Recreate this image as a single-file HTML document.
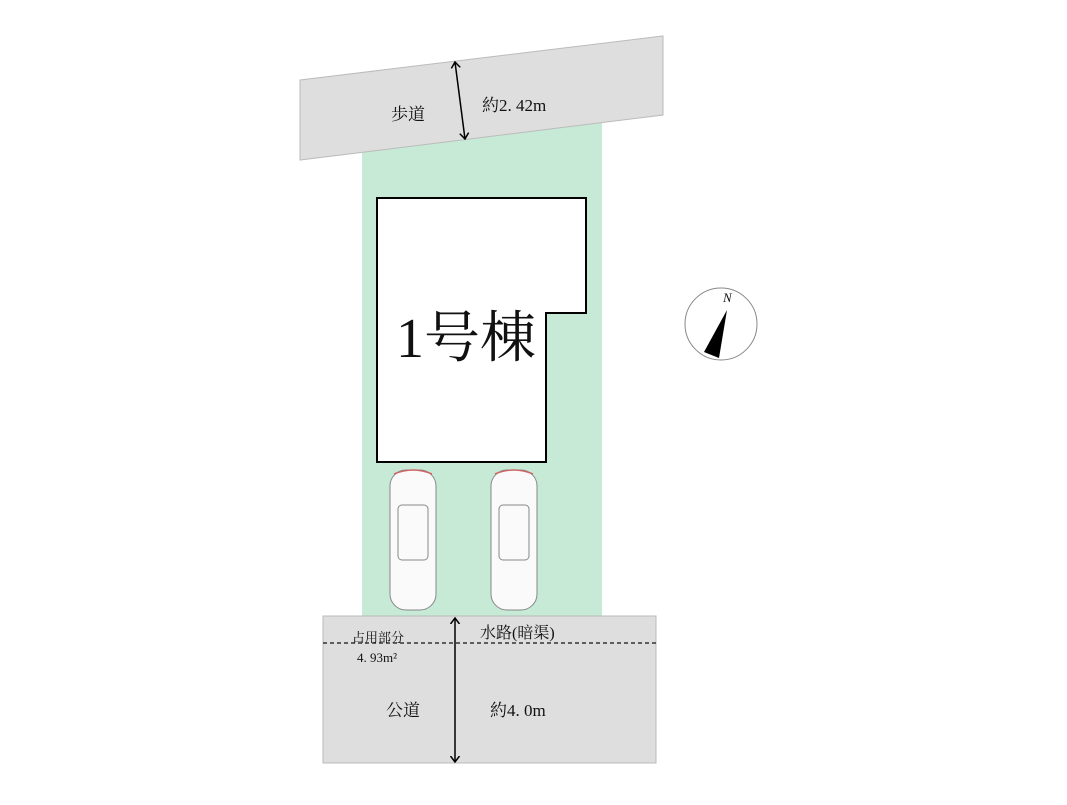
<!DOCTYPE html>
<html><head><meta charset="utf-8"><style>
body{margin:0;background:#fff;width:1067px;height:800px;overflow:hidden}
svg text{font-family:"Liberation Serif","Noto Serif CJK SC",serif;fill:#111}
</style></head><body>
<svg width="1067" height="800" viewBox="0 0 1067 800">
<defs><marker id="a" markerWidth="8" markerHeight="8" refX="4" refY="4" orient="auto-start-reverse"><path d="M0,1 L4,4 L0,7" fill="none" stroke="#000" stroke-width="1"/></marker></defs>
<rect x="362" y="110" width="240" height="506" fill="#c6ead6"/>
<polygon points="300,80 663,36 663,115 300,160" fill="#dedede" stroke="#bbb" stroke-width="1"/>
<line x1="455" y1="62" x2="465" y2="139" stroke="#000" stroke-width="1.5" marker-start="url(#a)" marker-end="url(#a)"/>
<text x="391" y="120" font-size="17">歩道</text>
<text x="482" y="111" font-size="17">約2. 42m</text>
<polygon points="377,198 586,198 586,313 546,313 546,462 377,462" fill="#fff" stroke="#000" stroke-width="2"/>
<text x="396" y="357" font-size="56">1号棟</text>
<g fill="#fafafa" stroke="#888" stroke-width="1">
<rect x="390" y="470" width="46" height="140" rx="16"/>
<rect x="491" y="470" width="46" height="140" rx="16"/>
<rect x="398" y="505" width="30" height="55" rx="4"/>
<rect x="499" y="505" width="30" height="55" rx="4"/>
</g>
<path d="M394,474 Q413,466 432,474 M495,474 Q514,466 533,474" stroke="#c66" fill="none" stroke-width="1.5"/>
<rect x="323" y="616" width="333" height="147" fill="#dedede" stroke="#bbb"/>
<line x1="323" y1="643" x2="656" y2="643" stroke="#333" stroke-width="1.5" stroke-dasharray="4,3"/>
<line x1="455" y1="618" x2="455" y2="762" stroke="#000" stroke-width="1.5" marker-start="url(#a)" marker-end="url(#a)"/>
<text x="352" y="642" font-size="13">占用部分</text>
<text x="357" y="662" font-size="13">4. 93m²</text>
<text x="480" y="638" font-size="16">水路(暗渠)</text>
<text x="386" y="716" font-size="17">公道</text>
<text x="490" y="716" font-size="17">約4. 0m</text>
<circle cx="721" cy="324" r="36" fill="#fff" stroke="#888"/>
<polygon points="727,310 704,352 719,358" fill="#000"/>
<text x="723" y="302" font-size="13" font-style="italic">N</text>
</svg>
</body></html>
